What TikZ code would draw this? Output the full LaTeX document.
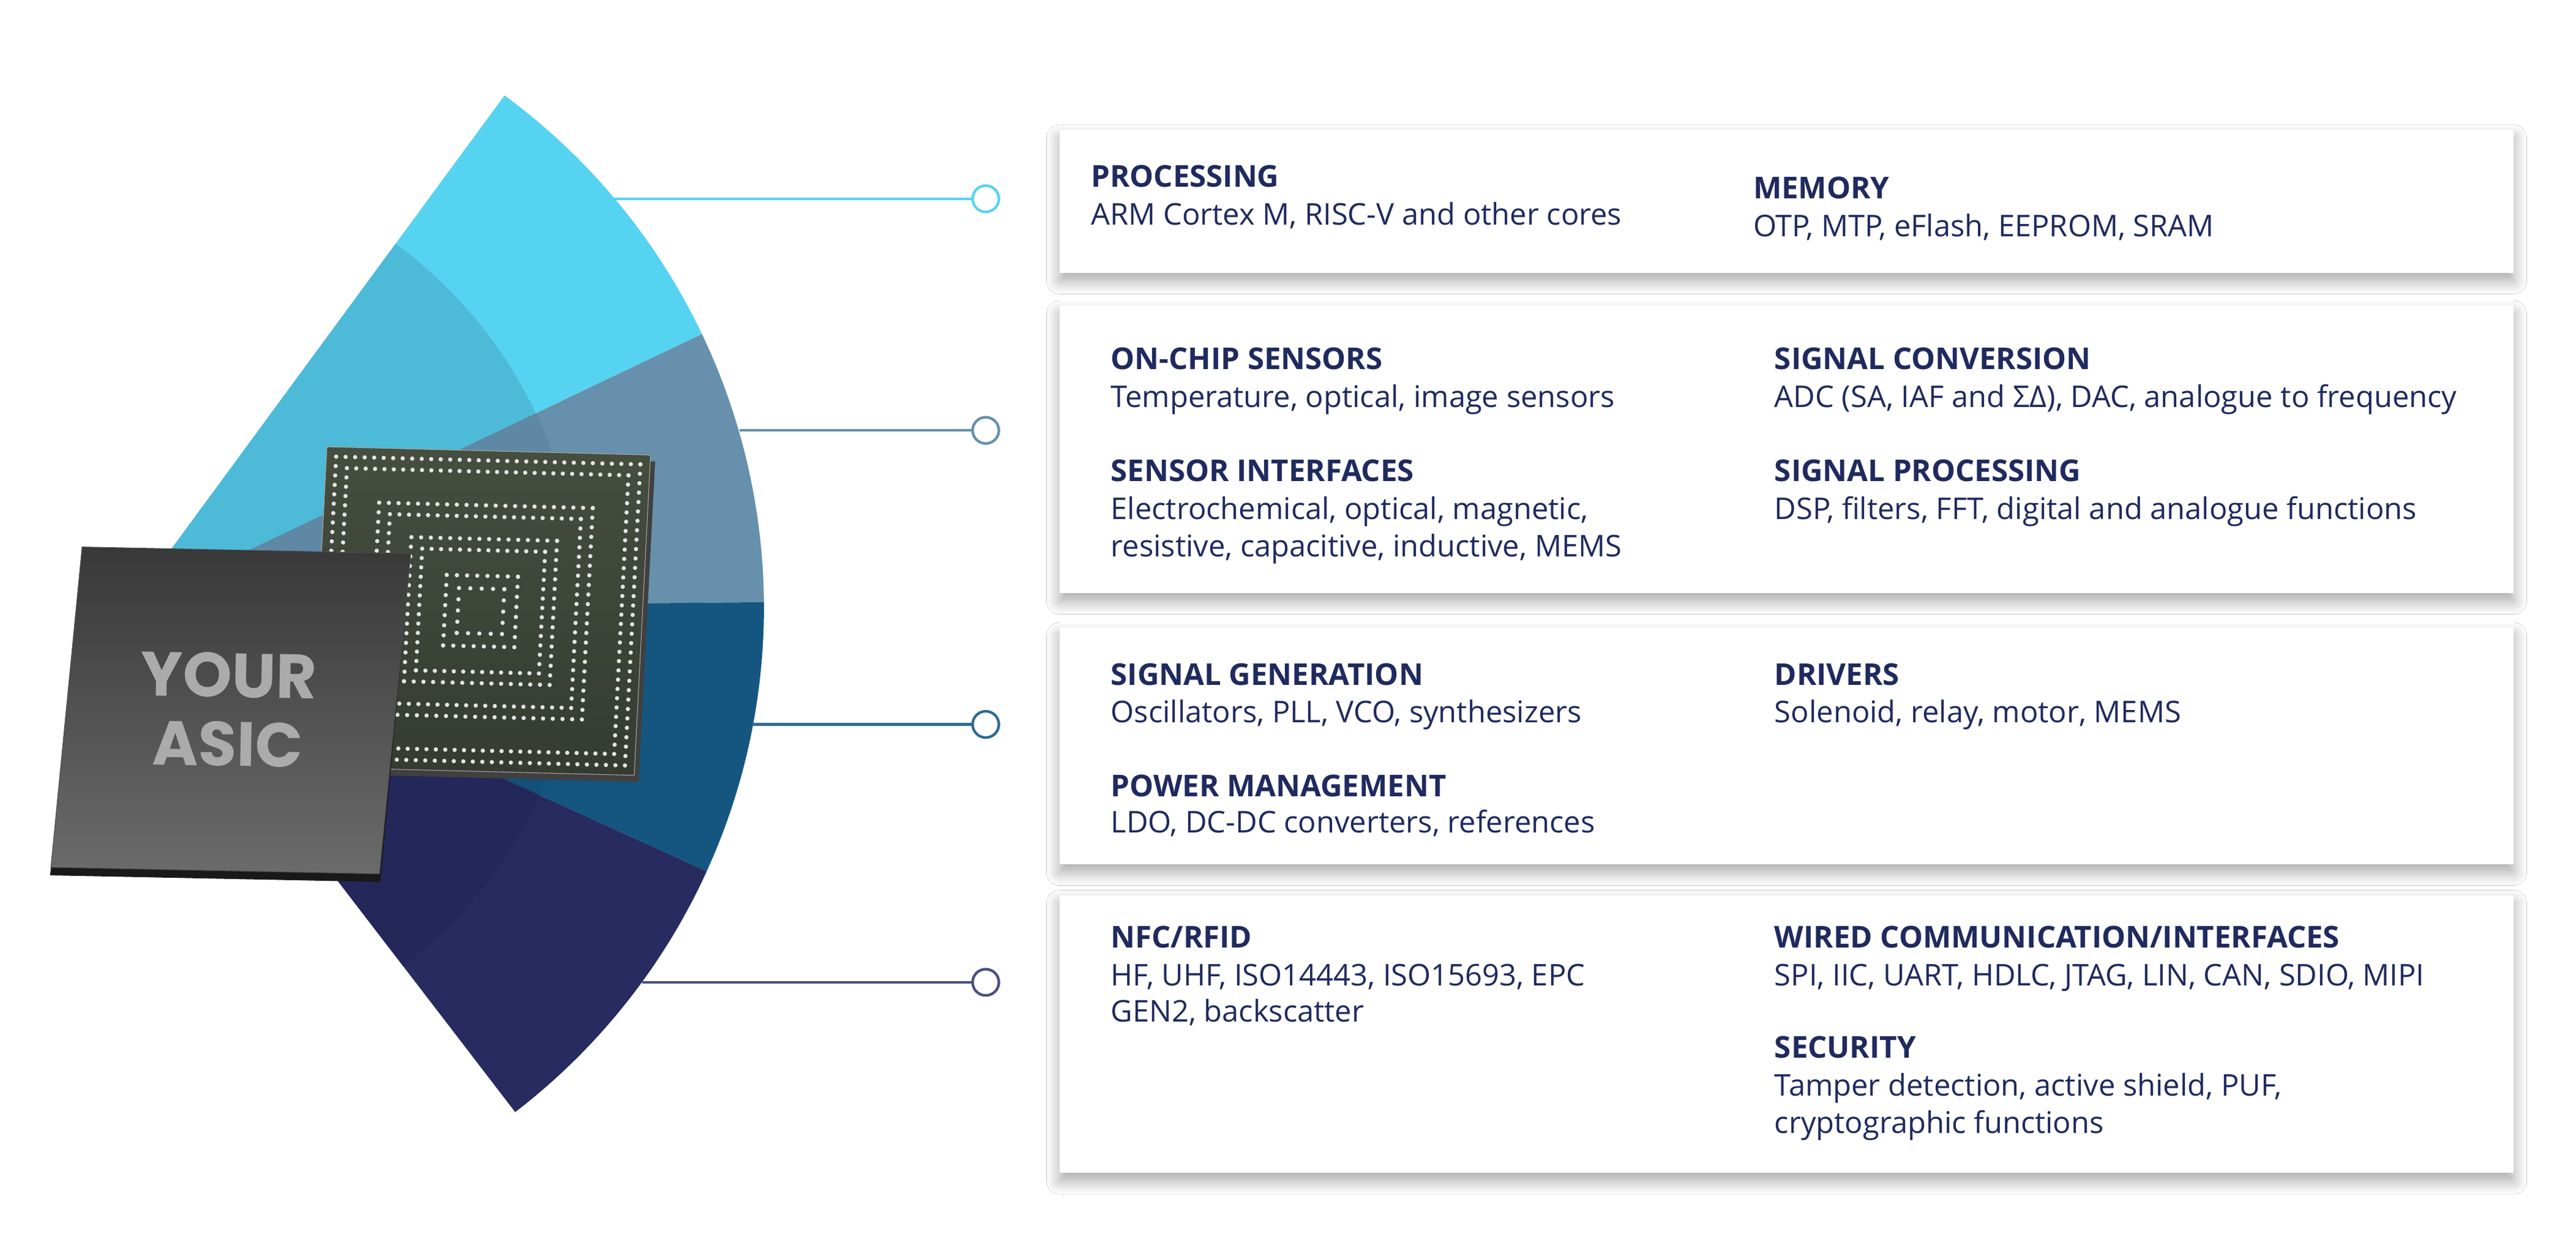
\documentclass[tikz,border=0pt]{standalone}
\usepackage{fontspec}
\setmainfont{Open Sans}
\newfontfamily\chipfont{Poppins}
\usetikzlibrary{shadows.blur}
\definecolor{txt}{HTML}{1F2A5E}
\definecolor{cyanA}{HTML}{56D3F1}
\definecolor{cyanB}{HTML}{4DBAD8}
\definecolor{steelA}{HTML}{6690AB}
\definecolor{steelB}{HTML}{5F88A4}
\definecolor{tealA}{HTML}{145680}
\definecolor{tealB}{HTML}{135079}
\definecolor{navyA}{HTML}{272B5F}
\definecolor{navyB}{HTML}{232759}
\definecolor{lnA}{HTML}{56D3F1}
\definecolor{lnB}{HTML}{6690AB}
\definecolor{lnC}{HTML}{2F6A92}
\definecolor{lnD}{HTML}{4A4F80}
\definecolor{pcbA}{HTML}{464E40}
\definecolor{pcbB}{HTML}{353B31}
\tikzset{
  card/.style={fill=white, draw=none, blur shadow={shadow xshift=0pt, shadow yshift=-5pt, shadow blur steps=12, shadow opacity=35, shadow blur radius=8pt}},
  hd/.style={anchor=base west, inner sep=0pt, text=txt, font=\fontsize{18.3}{22}\selectfont\bfseries},
  bd/.style={anchor=base west, inner sep=0pt, text=txt, font=\fontsize{18.2}{22}\selectfont},
  ring/.style={circle, draw=#1, fill=white, line width=1.6pt, minimum size=16pt, inner sep=0pt},
  conn/.style={draw=#1, line width=1.6pt},
}
\begin{document}
\begin{tikzpicture}[x=1pt,y=-1pt]
\path[use as bounding box, fill=white] (0,0) rectangle (1568,753);
% fan
\begin{scope}[shift={(78,370)}, y=1pt]
  \fill[cyanA] (0,0) -- (53.7:387) arc[start angle=53.7, end angle=25.5, radius=387] -- cycle;
  \fill[steelA] (0,0) -- (25.5:387) arc[start angle=25.5, end angle=0.5, radius=387] -- cycle;
  \fill[tealA] (0,0) -- (0.5:387) arc[start angle=0.5, end angle=-24.5, radius=387] -- cycle;
  \fill[navyA] (0,0) -- (-24.5:387) arc[start angle=-24.5, end angle=-52.5, radius=387] -- cycle;
  \fill[cyanB] (0,0) -- (53.7:275) arc[start angle=53.7, end angle=25.5, radius=275] -- cycle;
  \fill[steelB] (0,0) -- (25.5:275) arc[start angle=25.5, end angle=0.5, radius=275] -- cycle;
  \fill[tealB] (0,0) -- (0.5:275) arc[start angle=0.5, end angle=-24.5, radius=275] -- cycle;
  \fill[navyB] (0,0) -- (-24.5:275) arc[start angle=-24.5, end angle=-52.5, radius=275] -- cycle;
\end{scope}
% connectors
\coordinate (s1) at (374,121);
\coordinate (s2) at (450,262);
\coordinate (s3) at (458,441);
\coordinate (s4) at (391,598);
\node[ring=lnA] (c1) at (600,121) {};
\node[ring=lnB] (c2) at (600,262) {};
\node[ring=lnC] (c3) at (600,441) {};
\node[ring=lnD] (c4) at (600,598) {};
\draw[conn=lnA] (s1) -- (c1);
\draw[conn=lnB] (s2) -- (c2);
\draw[conn=lnC] (s3) -- (c3);
\draw[conn=lnD] (s4) -- (c4);
% back chip
\begin{scope}[shift={(199,272)}, x={(197pt,-5pt)}, y={(-10pt,-195pt)}]
  \fill[black!75] (0.015,0.02) -- (1.015,0.02) -- (1.015,1.02) -- (0.015,1.02) -- cycle;
  \shade[top color=pcbA, bottom color=pcbB, draw=gray!70] (0,0) -- (1,0) -- (1,1) -- (0,1) -- cycle;
  \foreach \d/\n in {0.03/32,0.065/30,0.17/22,0.205/20,0.275/15,0.31/13,0.39/7,0.43/4}{
    \pgfmathsetmacro{\L}{1-2*\d}
    \foreach \i in {0,...,\n}{
      \pgfmathsetmacro{\t}{\d+\L*\i/\n}
      \fill[gray!20] (\t,\d) circle[radius=1.3pt] (\t,1-\d) circle[radius=1.3pt]
                     (\d,\t) circle[radius=1.3pt] (1-\d,\t) circle[radius=1.3pt];
    }
  }
\end{scope}
% front chip
\begin{scope}[shift={(50,333)}, x={(200pt,-4pt)}, y={(-19pt,-195pt)}]
  \fill[black!90] (0,0.02) -- (1,0.02) -- (1.005,1.025) -- (0.0,1.025) -- cycle;
  \shade[top color=black!78, bottom color=black!58, draw=black!70] (0,0) -- (1,0) -- (1,1) -- (0,1) -- cycle;
\end{scope}
\node[text=black!33, font=\chipfont\bfseries\fontsize{38}{42}\selectfont, align=center, rotate=-1] (asic) at (139,432) {YOUR\\ASIC};
% cards
\path[card] (645,79) rectangle (1530,166);
\path[card] (645,186) rectangle (1530,361);
\path[card] (645,382) rectangle (1530,526);
\path[card] (645,545) rectangle (1530,714);
% box 1
\node[hd] (h1) at (664,114) {PROCESSING};
\node[bd] (b1) at (664,137) {ARM Cortex M, RISC-V and other cores};
\node[hd] (h2) at (1067,121) {MEMORY};
\node[bd] (b2) at (1067,144) {OTP, MTP, eFlash, EEPROM, SRAM};
% box 2
\node[hd] (h3) at (676,225) {ON-CHIP SENSORS};
\node[bd] (b3) at (676,248) {Temperature, optical, image sensors};
\node[hd] (h4) at (676,293) {SENSOR INTERFACES};
\node[bd] (b4a) at (676,316) {Electrochemical, optical, magnetic,};
\node[bd] (b4b) at (676,339) {resistive, capacitive, inductive, MEMS};
\node[hd] (h5) at (1080,225) {SIGNAL CONVERSION};
\node[bd] (b5) at (1080,248) {ADC (SA, IAF and ΣΔ), DAC, analogue to frequency};
\node[hd] (h6) at (1080,293) {SIGNAL PROCESSING};
\node[bd] (b6) at (1080,316) {DSP, filters, FFT, digital and analogue functions};
% box 3
\node[hd] (h7) at (676,417) {SIGNAL GENERATION};
\node[bd] (b7) at (676,440) {Oscillators, PLL, VCO, synthesizers};
\node[hd] (h8) at (676,485) {POWER MANAGEMENT};
\node[bd] (b8) at (676,507) {LDO, DC-DC converters, references};
\node[hd] (h9) at (1080,417) {DRIVERS};
\node[bd] (b9) at (1080,440) {Solenoid, relay, motor, MEMS};
% box 4
\node[hd] (h10) at (676,577) {NFC/RFID};
\node[bd] (b10a) at (676,600) {HF, UHF, ISO14443, ISO15693, EPC};
\node[bd] (b10b) at (676,622) {GEN2, backscatter};
\node[hd] (h11) at (1080,577) {WIRED COMMUNICATION/INTERFACES};
\node[bd] (b11) at (1080,600) {SPI, IIC, UART, HDLC, JTAG, LIN, CAN, SDIO, MIPI};
\node[hd] (h12) at (1080,644) {SECURITY};
\node[bd] (b12a) at (1080,667) {Tamper detection, active shield, PUF,};
\node[bd] (b12b) at (1080,690) {cryptographic functions};
\end{tikzpicture}
\end{document}
